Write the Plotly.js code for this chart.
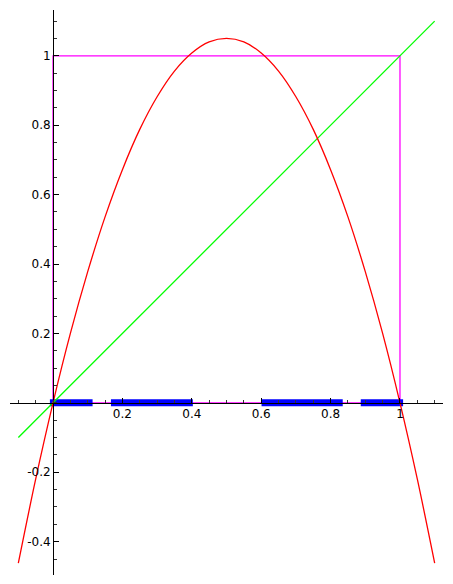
<!DOCTYPE html>
<html>
<head>
<meta charset="utf-8">
<script src="https://cdn.plot.ly/plotly-3.0.1.min.js"></script>
<style>
  html, body { margin: 0; padding: 0; background: #fff; }
  #chart { width: 453px; height: 584px; }
</style>
</head>
<body>
<div id="chart"></div>
<script>
// values
const curveX = [-0.1, -0.05, 0, 0.05, 0.1, 0.15, 0.2, 0.25, 0.3, 0.35, 0.4, 0.45, 0.5,
                0.55, 0.6, 0.65, 0.7, 0.75, 0.8, 0.85, 0.9, 0.95, 1, 1.05, 1.1]
const curveY = [-0.462, -0.22, 0, 0.2, 0.378, 0.536, 0.672, 0.788, 0.882, 0.956, 1.008, 1.04, 1.05,
                1.04, 1.008, 0.956, 0.882, 0.788, 0.672, 0.536, 0.378, 0.2, 0, -0.22, -0.462]

const diagX = [-0.1, 1.1]
const diagY = [-0.1, 1.1]

const boxX = [0, 0, 1, 1, 0]
const boxY = [0, 1, 1, 0, 0]

// intervals marked on the x axis
const segStart = [-0.009, 0.167, 0.601, 0.887]
const segEnd = [0.114, 0.403, 0.835, 1.009]

const xTicks = [0.2, 0.4, 0.6, 0.8, 1]
const xTickText = ["0.2", "0.4", "0.6", "0.8", "1"]
const yTicks = [-0.4, -0.2, 0.2, 0.4, 0.6, 0.8, 1]
const yTickText = ["-0.4", "-0.2", "0.2", "0.4", "0.6", "0.8", "1"]

const xRange = [-0.124, 1.124]
const yRange = [-0.496, 1.132]

let segX = []
let segY = []
for (let i = 0; i < segStart.length; i++) {
    segX.push(segStart[i], segEnd[i], null)
    segY.push(0, 0, null)
}

let traces = [
    { x: boxX, y: boxY, type: "scatter", mode: "lines",
      line: { color: "#ff00ff", width: 1.3 }, hoverinfo: "skip" },
    { x: segX, y: segY, type: "scatter", mode: "lines",
      line: { color: "#0000ff", width: 7 }, hoverinfo: "skip" },
    { x: diagX, y: diagY, type: "scatter", mode: "lines",
      line: { color: "#00ff00", width: 1.3 }, hoverinfo: "skip" },
    { x: curveX, y: curveY, type: "scatter", mode: "lines",
      line: { color: "#ff0000", width: 1.3, shape: "spline", smoothing: 1 }, hoverinfo: "skip" }
]

// put the axes through the origin
const xPos = (0 - yRange[0]) / (yRange[1] - yRange[0])
const yPos = (0 - xRange[0]) / (xRange[1] - xRange[0])

let layout = {
    width: 453,
    height: 584,
    margin: { l: 10, r: 10, t: 10, b: 9 },
    paper_bgcolor: "#fff",
    plot_bgcolor: "#fff",
    showlegend: false,
    font: { family: "DejaVu Sans", size: 12, color: "#000" },
    xaxis: {
        range: xRange,
        anchor: "free",
        position: xPos,
        showgrid: false,
        zeroline: false,
        showline: true,
        linecolor: "#000",
        linewidth: 1,
        tickmode: "array",
        tickvals: xTicks,
        ticktext: xTickText,
        ticks: "inside",
        ticklen: 5,
        tickcolor: "#000",
        minor: { tickmode: "linear", tick0: 0, dtick: 0.05, ticks: "inside", ticklen: 3, tickcolor: "#333" }
    },
    yaxis: {
        range: yRange,
        anchor: "free",
        position: yPos,
        showgrid: false,
        zeroline: false,
        showline: true,
        linecolor: "#000",
        linewidth: 1,
        tickmode: "array",
        tickvals: yTicks,
        ticktext: yTickText,
        ticks: "inside",
        ticklen: 5,
        tickcolor: "#000",
        minor: { tickmode: "linear", tick0: 0, dtick: 0.05, ticks: "inside", ticklen: 3, tickcolor: "#333" }
    }
}

Plotly.newPlot("chart", traces, layout, { staticPlot: true })
</script>
</body>
</html>
